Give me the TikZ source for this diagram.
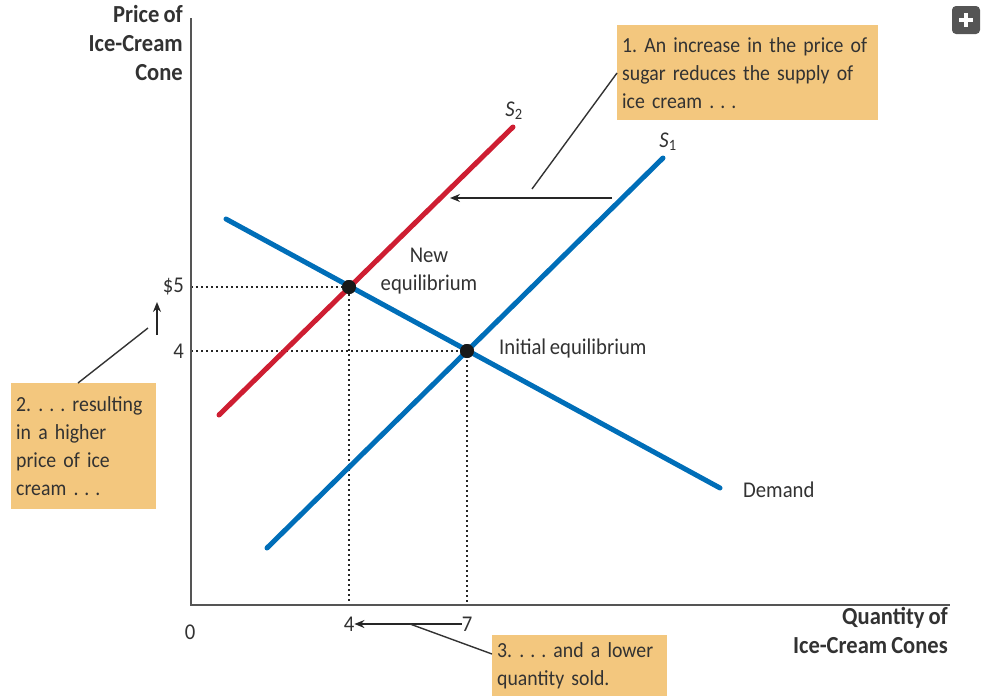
\documentclass[tikz,border=0pt]{standalone}
\usepackage{fontspec}
\setmainfont{Carlito}[WordSpace=0.8, FakeStretch=0.92]
\usetikzlibrary{arrows, arrows.meta, positioning, calc}
\definecolor{demandblue}{RGB}{0,110,184}
\definecolor{supplyred}{RGB}{206,30,50}
\definecolor{notetan}{RGB}{243,199,126}
\definecolor{inkgray}{RGB}{50,50,50}
\definecolor{axisgray}{RGB}{85,85,85}
\newcommand{\dotsgap}{.\hspace{6pt}.\hspace{6pt}.}
\hyphenpenalty=10000
\frenchspacing
\tikzstyle{lbl} = [text=inkgray, font=\fontsize{22.5}{28}\selectfont, inner sep=0pt]
\tikzstyle{title} = [text=inkgray, font=\bfseries\fontsize{24.5}{29}\selectfont, inner sep=0pt, align=right]
\tikzstyle{note} = [fill=notetan, text=inkgray, font=\fontsize{21.5}{28}\selectfont, align=left, anchor=north west, inner xsep=5pt, inner ysep=4pt]
\tikzstyle{curve} = [line width=5pt, line cap=round]
\tikzstyle{guide} = [line width=2pt, dash pattern=on 2pt off 3pt, black!85]
\tikzstyle{axis} = [line width=2pt, axisgray]
\tikzstyle{eqdot} = [circle, fill=black!90, minimum size=14pt, inner sep=0pt]
\tikzstyle{leader} = [line width=1.4pt, black!80]
\tikzstyle{arrow} = [line width=1.4pt, black!85, ->, >={Stealth[length=10pt, width=8pt]}]

\begin{document}
\begin{tikzpicture}[x=1pt, y=-1pt]
    \useasboundingbox (0,0) rectangle (983,696);
    % Coordinates
    \coordinate (origin) at (191,605);
    \coordinate (ytop) at (191,18);
    \coordinate (xend) at (950,605);
    \coordinate (d1) at (226,219);
    \coordinate (d2) at (720,488);
    \coordinate (s1a) at (267,548);
    \coordinate (s1b) at (663,158);
    \coordinate (s2a) at (219,415);
    \coordinate (s2b) at (513,127);

    % Equilibrium points
    \node (neweq) [eqdot] at (349,287) {};
    \node (initeq) [eqdot] at (467,351) {};

    % Guides
    \draw [guide] (neweq.center -| origin) -- (neweq.center) -- (neweq.center |- origin);
    \draw [guide] (initeq.center -| origin) -- (initeq.center) -- (initeq.center |- origin);

    % Axes
    \draw [axis] (ytop) -- (origin) -- (xend);

    % Curves
    \draw [curve, demandblue] (d1) -- (d2);
    \draw [curve, demandblue] (s1a) -- (s1b);
    \draw [curve, supplyred] (s2a) -- (s2b);
    \node [eqdot] at (neweq) {};
    \node [eqdot] at (initeq) {};

    % Labels
    \node (ytitle) [title, anchor=north east] at (183,5) {Price of\\Ice-Cream\\Cone};
    \node (xtitle) [title, anchor=north east] at (948,607) {Quantity of\\Ice-Cream Cones};
    \node (p5) [lbl, anchor=east] at (184,287) {\$5};
    \node (p4) [lbl, anchor=east] at (184,351) {4};
    \node (zero) [lbl] at (190,632) {0};
    \node (q4) [lbl] at (349,624) {4};
    \node (q7) [lbl] at (467,624) {7};
    \node (s2lbl) [lbl] at (514,111) {{\itshape S}\textsubscript{2}};
    \node (s1lbl) [lbl] at (668,142) {{\itshape S}\textsubscript{1}};
    \node (newlbl) [lbl, align=center] at (429,271) {New\\equilibrium};
    \node (initlbl) [lbl, anchor=west] at (499,348) {Initial equilibrium};
    \node (dlbl) [lbl, anchor=west] at (743,490) {Demand};

    % Notes
    \node (note1) [note, text width=251pt, minimum height=95pt] at (617,25) {1. An increase in the price of\\sugar reduces the supply of\\ice cream \dotsgap};
    \node (note2) [note, text width=135pt, minimum height=126pt] at (11,383) {2. \dotsgap{} resulting\\in a higher\\price of ice\\cream \dotsgap};
    \node (note3) [note, text width=165pt, minimum height=61pt, inner ysep=1pt] at (492,635) {3. \dotsgap{} and a lower\\quantity sold.};

    % Arrows
    \coordinate (shiftR) at (612,198);
    \coordinate (shiftL) at (450,198);
    \coordinate (priceLo) at (157,335);
    \coordinate (priceHi) at (157,302);
    \draw [arrow] (shiftR) -- (shiftL);
    \draw [arrow] (priceLo) -- (priceHi);
    \draw [arrow] (q7.west) -- (q4.east);
    \draw [leader] (note1.west |- 0,73) -- (532,189);
    \draw [leader] (note2.north west) ++(67,0) -- (148,328);
    \draw [leader] (note3.west |- 0,654) -- (410,624);

    % Expand icon
    \node (plus) [fill=axisgray, rounded corners=4pt, minimum size=28pt] at (966,20) {};
    \draw [white, line width=3.5pt] (plus.center) ++(-7,0) -- ++(14,0);
    \draw [white, line width=3.5pt] (plus.center) ++(0,-7) -- ++(0,14);
\end{tikzpicture}
\end{document}
